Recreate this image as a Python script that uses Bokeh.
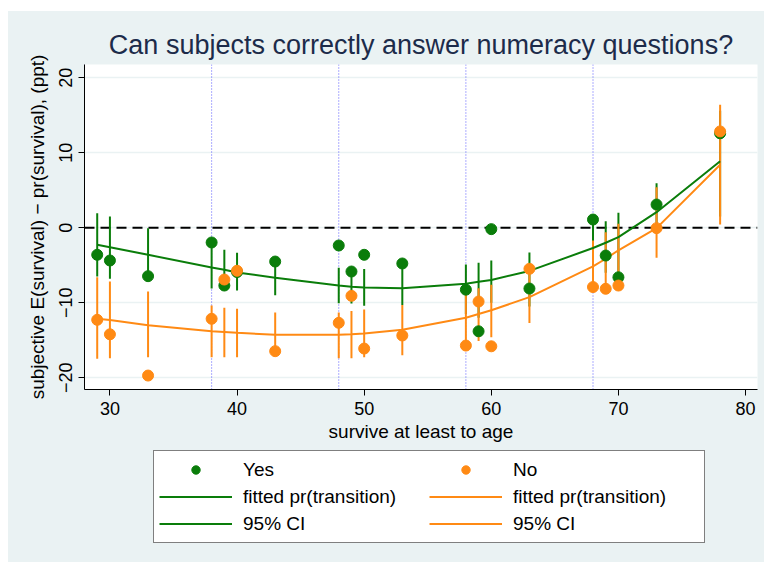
from bokeh.plotting import figure
from bokeh.layouts import column
from bokeh.models import (Range1d, FixedTicker, Span, Legend, LegendItem,
                          ColumnDataSource)
from bokeh.embed import file_html
from bokeh.resources import INLINE

# ---------------- data ----------------
ages = [29, 30, 33, 38, 39, 40, 43, 48, 49, 50, 53, 58, 59, 60, 63, 68, 69, 70, 73, 78]

yes_mean = [-3.6, -4.36, -6.45, -1.96, -7.7, -5.9, -4.5, -2.36, -5.83, -3.6,
            -4.76, -8.25, -13.8, -0.18, -8.1, 1.1, -3.7, -6.6, 3.1, 12.6]
yes_hi = [1.95, 1.5, -0.05, -1.9, -2.93, -3.33, -4.5, -5.33, -5.83, -5.5,
          -4.76, -4.9, -4.67, -4.36, -3.3, 1.1, 0.88, 2.0, 5.95, 15.6]
yes_lo = [-6.5, -6.8, -6.6, -8.1, -7.9, -8.36, -9.0, -10.05, -10.1, -10.4,
          -10.3, -11.5, -12.0, -10.0, -10.5, -5.0, -6.0, -6.6, 0.5, 1.5]
yes_fit = [-2.27, -2.6, -3.6, -5.3, -5.6, -5.95, -6.67, -7.7, -7.85, -7.96,
           -8.05, -7.45, -7.2, -6.95, -5.75, -2.7, -2.0, -1.25, 2.08, 8.88]

no_mean = [-12.27, -14.2, -19.7, -12.13, -6.9, -5.73, -16.45, -12.67, -9.07, -16.1,
           -14.36, -15.7, -9.83, -15.8, -5.47, -7.9, -8.13, -7.7, -0.05, 12.85]
no_hi = [-6.6, -7.16, -8.5, -10.36, -10.67, -10.8, -11.3, -11.3, -11.1, -10.9,
         -10.3, -8.6, -8.05, -7.6, -5.5, -1.7, -0.58, 0.53, 5.4, 16.4]
no_lo = [-17.47, -17.4, -17.25, -17.25, -17.25, -17.25, -16.5, -17.4, -17.4, -17.25,
         -17.0, -15.7, -15.1, -14.6, -12.7, -7.9, -8.13, -7.7, -4.0, 0.44]
no_fit = [-12.13, -12.3, -13.0, -13.8, -13.9, -14.0, -14.27, -14.27, -14.2, -14.1,
          -13.6, -12.0, -11.5, -11.0, -9.25, -5.15, -4.13, -3.0, -0.05, 8.4]

x_ticks = [30, 40, 50, 60, 70, 80]
y_ticks = [-20, -10, 0, 10, 20]
x_lines = [28, 38, 48, 58, 68]

title_text = "Can subjects correctly answer numeracy questions?"
x_title = "survive at least to age"
y_title = "subjective E(survival) \u2212 pr(survival), (ppt)"
legend_labels = ["Yes", "No", "fitted pr(transition)", "fitted pr(transition)",
                 "95% CI", "95% CI"]

# ---------------- styling ----------------
FONT = "Liberation Sans"
BG = "#eaf2f3"
GREEN = "#0a7d0a"
ORANGE = "#ff8a14"

p = figure(width=756, height=439, output_backend="svg", toolbar_location=None,
           x_range=Range1d(28, 80.94), y_range=Range1d(-21.56, 21.77),
           min_border_left=76, min_border_right=7, min_border_top=53,
           min_border_bottom=61, title=title_text)
p.background_fill_color = "white"
p.border_fill_color = BG
p.outline_line_color = None

p.title.align = "center"
p.title.text_font = FONT
p.title.text_font_size = "27px"
p.title.text_font_style = "normal"
p.title.text_color = "#1c2b4a"
p.title.standoff = 10

p.xgrid.visible = False
p.ygrid.ticker = FixedTicker(ticks=y_ticks)
p.ygrid.grid_line_color = BG
p.ygrid.grid_line_width = 1.5

p.xaxis.ticker = FixedTicker(ticks=x_ticks)
p.yaxis.ticker = FixedTicker(ticks=y_ticks)
p.xaxis.axis_label = x_title
p.yaxis.axis_label = y_title
p.yaxis.major_label_orientation = "vertical"
for ax in (p.xaxis, p.yaxis):
    ax.major_label_text_font = FONT
    ax.major_label_text_font_size = "18px"
    ax.major_label_text_color = "black"
    ax.axis_label_text_font = FONT
    ax.axis_label_text_font_size = "19px"
    ax.axis_label_text_font_style = "normal"
    ax.axis_label_text_color = "black"
    ax.major_tick_out = 6
    ax.major_tick_in = 0
    ax.minor_tick_out = 0
    ax.minor_tick_in = 0
    ax.axis_line_color = "black"
    ax.major_tick_line_color = "black"
    ax.major_label_standoff = 6
p.xaxis.axis_label_standoff = 3
p.yaxis.axis_label_standoff = 9

for xv in x_lines:
    p.add_layout(Span(location=xv, dimension="height", line_color="#5a5aff",
                      line_dash="1 2", line_width=1, level="underlay"))
p.add_layout(Span(location=0, dimension="width", line_color="black",
                  line_dash="10 6", line_width=2, level="underlay"))

src_yes = ColumnDataSource(dict(age=ages, mean=yes_mean, lo=yes_lo, hi=yes_hi, fit=yes_fit))
src_no = ColumnDataSource(dict(age=ages, mean=no_mean, lo=no_lo, hi=no_hi, fit=no_fit))

p.segment(x0="age", y0="lo", x1="age", y1="hi", source=src_yes,
          line_color=GREEN, line_width=2)
p.segment(x0="age", y0="lo", x1="age", y1="hi", source=src_no,
          line_color=ORANGE, line_width=2)
p.line("age", "fit", source=src_yes, line_color=GREEN, line_width=2)
p.line("age", "fit", source=src_no, line_color=ORANGE, line_width=2)
p.scatter("age", "mean", source=src_yes, size=11, fill_color=GREEN, line_color=GREEN)
p.scatter("age", "mean", source=src_no, size=11, fill_color=ORANGE, line_color=ORANGE)

# ---------------- legend strip (separate figure under the plot) ----------------
# Its ranges are chosen so the proxy renderers' data fall outside the view;
# they only exist to give the legend its swatches.
q = figure(width=756, height=112, output_backend="svg", toolbar_location=None,
           x_range=Range1d(0, 1), y_range=Range1d(0, 1),
           x_axis_type=None, y_axis_type=None,
           min_border_left=76, min_border_right=7, min_border_top=0,
           min_border_bottom=0)
q.background_fill_color = BG
q.border_fill_color = BG
q.outline_line_color = None
q.grid.visible = False

proxy_yes = ColumnDataSource(dict(x=ages[:1], y=yes_mean[:1]))
proxy_no = ColumnDataSource(dict(x=ages[:1], y=no_mean[:1]))
lg_pt_g = q.scatter("x", "y", source=proxy_yes, size=11, fill_color=GREEN, line_color=GREEN)
lg_pt_o = q.scatter("x", "y", source=proxy_no, size=11, fill_color=ORANGE, line_color=ORANGE)
lg_fit_g = q.line("x", "y", source=proxy_yes, line_color=GREEN, line_width=2)
lg_fit_o = q.line("x", "y", source=proxy_no, line_color=ORANGE, line_width=2)
lg_ci_g = q.line("x", "y", source=proxy_yes, line_color=GREEN, line_width=2)
lg_ci_o = q.line("x", "y", source=proxy_no, line_color=ORANGE, line_width=2)
lg_renderers = [lg_pt_g, lg_pt_o, lg_fit_g, lg_fit_o, lg_ci_g, lg_ci_o]

legend = Legend(items=[LegendItem(label=lab, renderers=[r])
                       for lab, r in zip(legend_labels, lg_renderers)],
                orientation="horizontal", ncols=2, location=(69, 19))
legend.label_text_font = FONT
legend.label_text_font_size = "19px"
legend.label_text_color = "black"
legend.glyph_width = 73
legend.glyph_height = 21
legend.label_height = 27
legend.label_width = 186
legend.label_standoff = 11
legend.spacing = 0
legend.padding = 5
legend.margin = 0
legend.border_line_color = "black"
legend.border_line_width = 1
legend.background_fill_color = "white"
legend.background_fill_alpha = 1
q.add_layout(legend, "center")

layout = column(p, q, spacing=0)
layout.margin = (11, 0, 0, 8)
layout.styles = {"background-color": BG}

open("out.html", "w").write(file_html(layout, INLINE))
